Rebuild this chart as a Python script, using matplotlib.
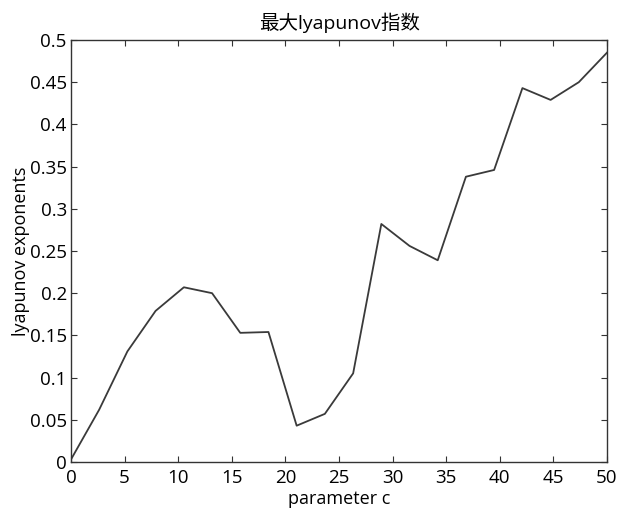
import matplotlib
matplotlib.use('Agg')
import matplotlib.pyplot as plt

# parameter c values and largest lyapunov exponents
c_values = [0.0, 2.63, 5.26, 7.89, 10.53, 13.16, 15.79, 18.42, 21.05, 23.68,
            26.32, 28.95, 31.58, 34.21, 36.84, 39.47, 42.11, 44.74, 47.37, 50.0]
lyap = [0.003, 0.062, 0.131, 0.179, 0.207, 0.200, 0.153, 0.154, 0.043, 0.057,
        0.105, 0.282, 0.256, 0.239, 0.338, 0.346, 0.443, 0.429, 0.450, 0.485]

x_ticks = [0, 5, 10, 15, 20, 25, 30, 35, 40, 45, 50]
y_ticks = [0, 0.05, 0.1, 0.15, 0.2, 0.25, 0.3, 0.35, 0.4, 0.45, 0.5]
y_labels = ['0', '0.05', '0.1', '0.15', '0.2', '0.25', '0.3', '0.35', '0.4', '0.45', '0.5']

plt.rcParams['font.family'] = ['Open Sans', 'Noto Sans CJK SC', 'DejaVu Sans']

fig = plt.figure(figsize=(6.19, 5.16), dpi=100)
ax = fig.add_axes([0.1147, 0.1047, 0.8659, 0.8178])

ax.plot(c_values, lyap, color='#3a3a3a', linewidth=1.3)

ax.set_xlim(0, 50)
ax.set_ylim(0, 0.5)
ax.set_xticks(x_ticks)
ax.set_yticks(y_ticks)
ax.set_yticklabels(y_labels)
ax.tick_params(direction='in', top=True, right=True, length=4,
               labelsize=13.5, colors='#333333', labelcolor='black')
ax.tick_params(axis='x', pad=5)
ax.tick_params(axis='y', pad=3)
for s in ax.spines.values():
    s.set_color('#333333')
    s.set_linewidth(1.0)

ax.set_xlabel('parameter c', fontsize=13, labelpad=2)
ax.set_ylabel('lyapunov exponents', fontsize=13, labelpad=0)
ax.set_title('最大lyapunov指数', fontsize=14, pad=8,
             family=['Open Sans', 'Noto Sans CJK SC'])

fig.savefig('out.png', dpi=100)
